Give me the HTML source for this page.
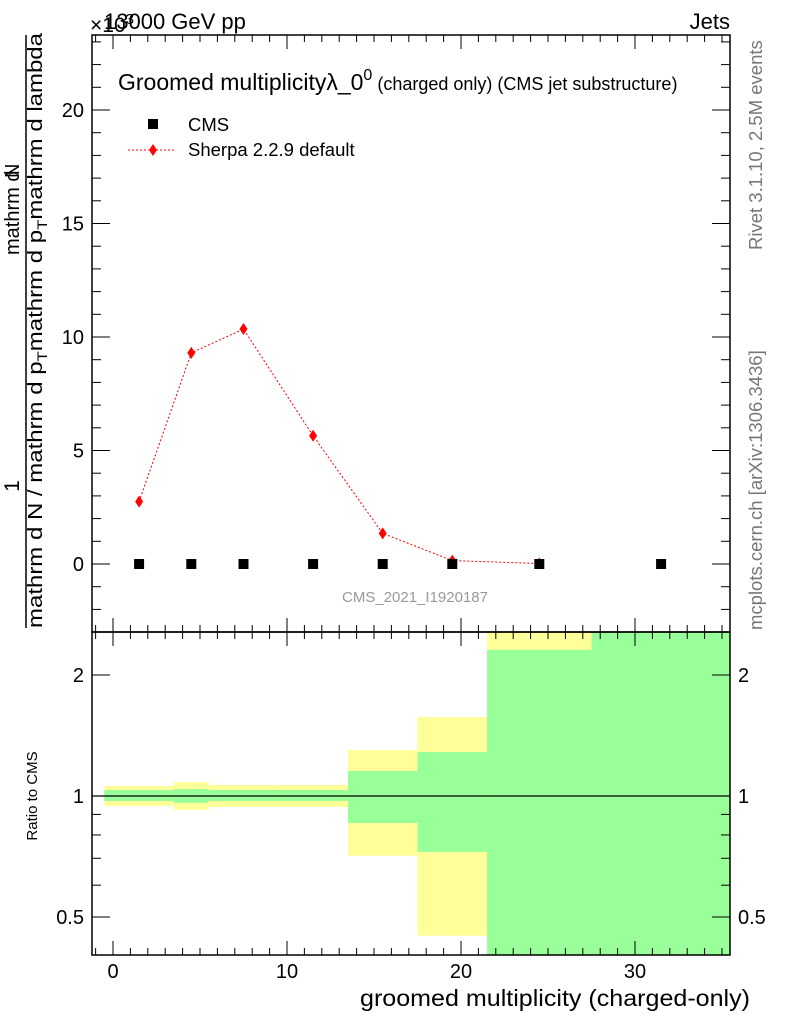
<!DOCTYPE html>
<html><head><meta charset="utf-8"><style>
body{margin:0;background:#fff}
svg{display:block;font-family:"Liberation Sans",sans-serif}
</style></head><body>
<svg id="chart" width="786" height="1024" xmlns="http://www.w3.org/2000/svg">
<g id="ratio-bands"></g>
<g id="main-marks"></g>
<g id="axes"></g>
<text x="90" y="32" font-size="21">×10<tspan font-size="15" dy="-8">3</tspan></text>
<text x="104" y="29" font-size="22">13000 GeV pp</text>
<text x="730" y="29" font-size="22" text-anchor="end">Jets</text>
<text x="118" y="90" font-size="23">Groomed multiplicityλ_0<tspan font-size="16" dy="-10">0</tspan><tspan font-size="18" dy="10"> (charged only) (CMS jet substructure)</tspan></text>
<rect x="148" y="119" width="10" height="10" fill="#000"/>
<text x="188" y="131" font-size="18.5">CMS</text>
<line x1="128" y1="150" x2="176" y2="150" stroke="red" stroke-dasharray="2,2"/>
<polygon points="153,144 157,150 153,156 149,150" fill="red"/>
<text x="188" y="156" font-size="18.5">Sherpa 2.2.9 default</text>
<text x="415" y="602" font-size="15" fill="#999" text-anchor="middle">CMS_2021_I1920187</text>
<text transform="translate(762,250) rotate(-90)" font-size="18.5" fill="#777">Rivet 3.1.10,  2.5M events</text>
<text transform="translate(762,630) rotate(-90)" font-size="18.5" fill="#777">mcplots.cern.ch [arXiv:1306.3436]</text>
<g font-size="21">
<text transform="translate(19,486) rotate(-90)" text-anchor="middle">1</text>
<line x1="26" y1="628" x2="26" y2="35" stroke="#000" stroke-width="1.5"/>
<text transform="translate(42,628) rotate(-90)" font-size="20" textLength="595" lengthAdjust="spacingAndGlyphs">mathrm d N / mathrm d p<tspan font-size="14" dy="5">T</tspan><tspan dy="-5">mathrm d p</tspan><tspan font-size="14" dy="5">T</tspan><tspan dy="-5">mathrm d lambda</tspan></text>
<text transform="translate(19,255) rotate(-90)" font-size="20">mathrm d</text><text transform="translate(19,178) rotate(-90)" font-size="20">N</text>
</g>
<text transform="translate(37,796) rotate(-90)" font-size="15" text-anchor="middle">Ratio to CMS</text>
<text x="750" y="1006" font-size="23" text-anchor="end" textLength="390" lengthAdjust="spacingAndGlyphs">groomed multiplicity (charged-only)</text>
</svg>
<script>
const xCenters=[1.5,4.5,7.5,11.5,15.5,19.5,24.5,31.5];
const cmsValues=[0,0,0,0,0,0,0,0];
const sherpaX=[1.5,4.5,7.5,11.5,15.5,19.5,24.5];
const sherpaValues=[2.75,9.3,10.35,5.65,1.35,0.15,0.02];
const binEdges=[-0.5,3.5,5.5,9.5,13.5,17.5,21.5,27.5,35.5];
const greenLo=[0.972,0.961,0.972,0.972,0.857,0.726,0.3,0.3];
const greenHi=[1.035,1.041,1.035,1.035,1.154,1.287,2.31,3];
const yellowLo=[0.944,0.923,0.939,0.939,0.71,0.449,0.3,0.3];
const yellowHi=[1.059,1.083,1.065,1.065,1.30,1.572,3,3];
const mainYTicks=[0,5,10,15,20];
const xTicks=[0,10,20,30];
const ratioTicks=[0.5,1,2];
const NS="http://www.w3.org/2000/svg";
const L=92,R=730,T=35,B=632,RB=955;
const X=v=>113+(v)*17.4;
const Y=v=>564-v*22.7;
const RY=v=>796-Math.log10(v)*402;
function mk(tag,attrs,parent){const e=document.createElementNS(NS,tag);for(const k in attrs)e.setAttribute(k,attrs[k]);parent.appendChild(e);return e;}
const bands=document.getElementById('ratio-bands');
const clip=mk('clipPath',{id:'rc'},bands);mk('rect',{x:L,y:B,width:R-L,height:RB-B},clip);
const bg=mk('g',{'clip-path':'url(#rc)'},bands);
for(let i=0;i<binEdges.length-1;i++){
 const x0=X(binEdges[i]),x1=X(binEdges[i+1]);
 const y=mk('rect',{x:x0,y:RY(yellowHi[i]),width:x1-x0,height:RY(yellowLo[i])-RY(yellowHi[i]),fill:'#ffff99'},bg);
 
 
 const g=mk('rect',{x:x0,y:RY(greenHi[i]),width:x1-x0,height:RY(greenLo[i])-RY(greenHi[i]),fill:'#99ff99'},bg);
 
 
}
mk('line',{x1:L,x2:R,y1:RY(1),y2:RY(1),stroke:'#000','stroke-width':1.2},bands);
const mm=document.getElementById('main-marks');
let pts=sherpaX.map((x,i)=>X(x)+','+Y(sherpaValues[i])).join(' ');
const pl=mk('polyline',{points:pts,fill:'none',stroke:'red','stroke-dasharray':'2,2'},mm);


sherpaX.forEach((x,i)=>{const cx=X(x),cy=Y(sherpaValues[i]);
 const p=mk('polygon',{points:`${cx},${cy-6} ${cx+4},${cy} ${cx},${cy+6} ${cx-4},${cy}`,fill:'red'},mm);
 
 });
xCenters.forEach((x,i)=>{const cx=X(x),cy=Y(cmsValues[i]);
 const r=mk('rect',{x:cx-5,y:cy-5,width:10,height:10,fill:'#000'},mm);
 
 });
const ax=document.getElementById('axes');
mk('rect',{x:L,y:T,width:R-L,height:B-T,fill:'none',stroke:'#000','stroke-width':1.5},ax);
mk('rect',{x:L,y:B,width:R-L,height:RB-B,fill:'none',stroke:'#000','stroke-width':1.5},ax);
for(let v=-1;v<=35;v++){const x=X(v);const maj=v%10===0;const len=maj?14:7;
 [[T,T+len],[B,B-len],[B,B+len],[RB,RB-len]].forEach(([a,b])=>mk('line',{x1:x,x2:x,y1:a,y2:b,stroke:'#000'},ax));}
for(let v=-3;v<=23;v++){const y=Y(v);if(y<T||y>B)continue;const maj=v%5===0;const len=maj?18:9;
 mk('line',{x1:L,x2:L+len,y1:y,y2:y,stroke:'#000'},ax);mk('line',{x1:R,x2:R-len,y1:y,y2:y,stroke:'#000'},ax);}
mainYTicks.forEach(v=>{const t=mk('text',{x:L-8,y:Y(v)+7,'font-size':20,'text-anchor':'end'},ax);t.textContent=v;
 
 });
xTicks.forEach(v=>{const t=mk('text',{x:X(v),y:978,'font-size':20,'text-anchor':'middle'},ax);t.textContent=v;
 
 });
[0.4,0.5,0.6,0.7,0.8,0.9,1,2].forEach(v=>{const y=RY(v);if(y>RB)return;const maj=ratioTicks.includes(v);const len=maj?18:9;
 mk('line',{x1:L,x2:L+len,y1:y,y2:y,stroke:'#000'},ax);mk('line',{x1:R,x2:R-len,y1:y,y2:y,stroke:'#000'},ax);});
ratioTicks.forEach(v=>{const y=RY(v)+7;
 const t=mk('text',{x:L-8,y:y,'font-size':20,'text-anchor':'end'},ax);t.textContent=v;
 
 
 const t2=mk('text',{x:R+8,y:y,'font-size':20},ax);t2.textContent=v;
 
 });
</script>
</body></html>
